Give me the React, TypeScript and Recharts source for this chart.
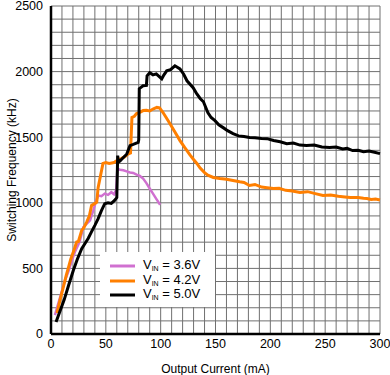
import React from 'react';
import { LineChart, Line, XAxis, YAxis, CartesianGrid } from 'recharts';

// tick values
const xTicks = Array.from({ length: 31 }, (_, i) => i * 10);
const yTicks = Array.from({ length: 26 }, (_, i) => i * 100);

// VIN = 3.6V
const vin36Current = [3.6, 6, 9, 12.8, 16, 19, 22, 26, 29.5, 32, 35.6, 38.6, 41, 43, 46, 49, 52, 55, 57.5, 59.5, 60.5, 63, 66, 69, 72, 75, 78, 81, 84, 87, 90, 93, 96, 99.5];
const vin36Freq = [144, 215, 300, 410, 480, 560, 630, 700, 815, 835, 866, 942, 1010, 1056, 1050, 1070, 1060, 1081, 1065, 1100, 1258, 1252, 1248, 1240, 1231, 1228, 1215, 1205, 1185, 1150, 1109, 1070, 1030, 985];

// VIN = 4.2V
const vin42Current = [5.5, 8, 11, 14, 15.7, 18, 21, 23.4, 25, 28, 30, 32.5, 35, 37, 39, 41.7, 43, 45, 47.4, 50, 53, 56.5, 58, 61, 64, 67, 70, 72.5, 73.8, 76, 78, 81, 84, 87, 90, 93, 96.5, 99, 102, 105, 108.5, 113, 117.6, 122, 126.7, 130, 133, 136, 140, 143, 148, 154, 160, 166, 172, 176, 181, 186, 192, 197, 203, 208, 214, 220, 227, 234, 241, 248, 255, 262, 268, 273, 280, 285, 288, 292, 296, 300];
const vin42Freq = [160, 250, 350, 450, 500, 570, 640, 701, 705, 790, 810, 853, 900, 980, 990, 1005, 1117, 1200, 1300, 1307, 1300, 1305, 1310, 1325, 1337, 1350, 1370, 1380, 1650, 1660, 1680, 1690, 1703, 1705, 1700, 1715, 1727, 1723, 1690, 1650, 1603, 1540, 1474, 1420, 1365, 1330, 1300, 1265, 1230, 1210, 1193, 1185, 1180, 1170, 1160, 1155, 1132, 1140, 1120, 1115, 1109, 1110, 1095, 1090, 1079, 1085, 1070, 1056, 1060, 1050, 1045, 1041, 1040, 1035, 1033, 1025, 1028, 1022];

// VIN = 5.0V
const vin50Current = [4.6, 8, 12, 16, 20.4, 24, 28, 31, 34, 37, 40, 43, 46, 49, 52, 55, 58, 60, 60.8, 61.5, 63, 66, 69, 72, 75, 79.5, 80, 80.5, 84, 87, 87.6, 90, 93, 96, 99, 101, 103, 105.5, 109, 113, 117.6, 121, 124, 129.6, 133, 136, 139, 143, 146, 149.5, 153, 157, 161, 166, 171, 176, 181, 186, 192, 197, 203, 209, 215, 221, 227, 233, 240, 247, 254, 260, 266, 270, 275, 280, 285, 290, 295, 300];
const vin50Freq = [91, 170, 260, 370, 486, 570, 650, 690, 730, 780, 828, 880, 940, 993, 1000, 995, 1018, 1040, 1360, 1310, 1320, 1345, 1370, 1436, 1445, 1460, 1480, 1870, 1892, 1895, 1968, 1991, 1975, 1983, 1960, 1945, 1975, 2006, 2015, 2044, 2021, 1980, 1930, 1877, 1830, 1795, 1770, 1687, 1650, 1626, 1595, 1573, 1550, 1527, 1510, 1505, 1497, 1495, 1490, 1489, 1475, 1465, 1451, 1455, 1440, 1436, 1440, 1425, 1421, 1425, 1410, 1415, 1398, 1400, 1390, 1395, 1385, 1375];

const toRows = (xs: number[], ys: number[]) => xs.map((x, i) => ({ i: x, f: ys[i] }));

const series = [
  { name: '3.6V', color: '#d070d0', width: 2.5, data: toRows(vin36Current, vin36Freq) },
  { name: '4.2V', color: '#ff7f00', width: 3, data: toRows(vin42Current, vin42Freq) },
  { name: '5.0V', color: '#000000', width: 3, data: toRows(vin50Current, vin50Freq) },
];

const font = '"Liberation Sans", Arial, sans-serif';

const LegendBox = () => (
  <div
    style={{
      position: 'absolute', left: 100, top: 252, width: 115, height: 55,
      background: '#fff', paddingTop: 7, boxSizing: 'border-box',
      fontFamily: font, fontSize: 13, color: '#000', lineHeight: '14.5px',
    }}
  >
    {series.map((s) => (
      <div key={s.name} style={{ display: 'flex', alignItems: 'center', height: 14.5 }}>
        <svg width={43} height={14} style={{ flex: 'none' }}>
          <line x1={10} x2={35} y1={7} y2={7} stroke={s.color} strokeWidth={3} />
        </svg>
        <span style={{ whiteSpace: 'nowrap' }}>
          V<span style={{ fontSize: 7, position: 'relative', top: 2 }}>IN</span> = {s.name}
        </span>
      </div>
    ))}
  </div>
);

export default function App() {
  return (
    <div style={{ position: 'relative', width: 390, height: 375, background: '#fff' }}>
      <style>{`body{margin:0}`}</style>
      <LineChart width={390} height={375} margin={{ top: 6, right: 10, bottom: 0, left: 0 }}>
        <CartesianGrid stroke="#707070" strokeWidth={1} />
        <XAxis
          type="number"
          dataKey="i"
          domain={[0, 300]}
          ticks={xTicks}
          interval={0}
          tickFormatter={(v: number) => (v % 50 === 0 ? String(v) : '')}
          tickLine={false}
          tickSize={0}
          tickMargin={5}
          height={41}
          axisLine={{ stroke: '#000', strokeWidth: 2.5 }}
          tick={{ fill: '#000', fontSize: 12.5, fontFamily: font }}
          label={{ value: 'Output Current (mA)', position: 'insideBottom', offset: 2, fill: '#000', fontSize: 12, fontFamily: font }}
        />
        <YAxis
          type="number"
          dataKey="f"
          domain={[0, 2500]}
          ticks={yTicks}
          interval={0}
          tickFormatter={(v: number) => (v % 500 === 0 ? String(v) : '')}
          tickLine={false}
          tickSize={0}
          tickMargin={8}
          width={51}
          axisLine={{ stroke: '#000', strokeWidth: 2.5 }}
          tick={{ fill: '#000', fontSize: 12.5, fontFamily: font }}
          label={{ value: 'Switching Frequency (kHz)', angle: -90, position: 'center', dx: -14, fill: '#000', fontSize: 12, fontFamily: font }}
        />
        {series.map((s) => (
          <Line
            key={s.name}
            data={s.data}
            dataKey="f"
            name={s.name}
            type="linear"
            stroke={s.color}
            strokeWidth={s.width}
            dot={false}
            isAnimationActive={false}
          />
        ))}
      </LineChart>
      <LegendBox />
    </div>
  );
}
